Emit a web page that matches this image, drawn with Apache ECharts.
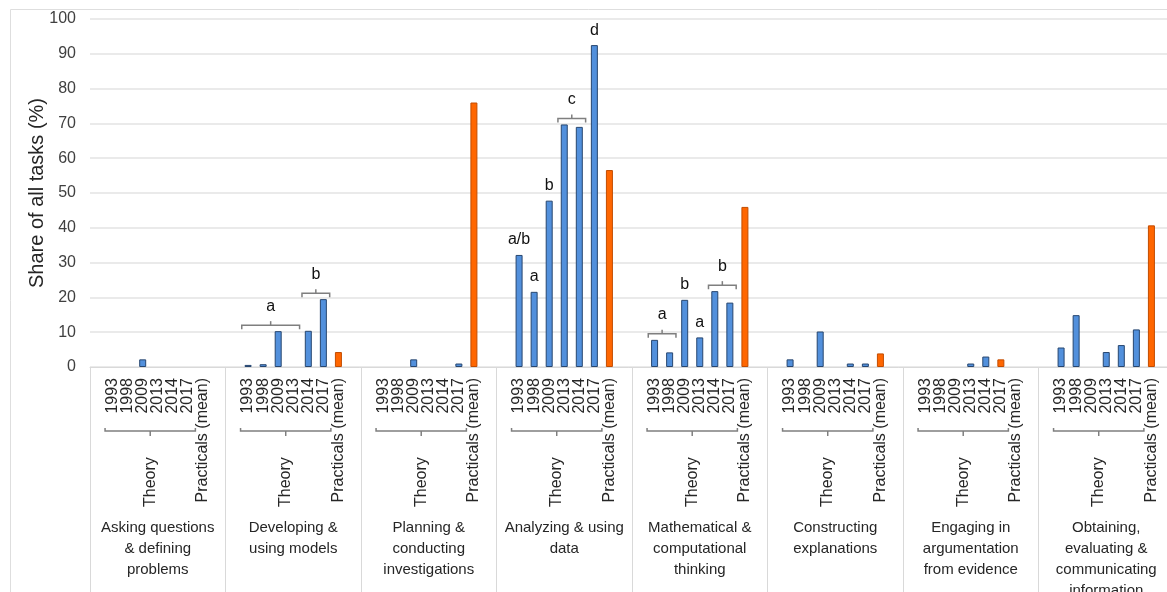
<!DOCTYPE html>
<html>
<head>
<meta charset="utf-8">
<script src="https://cdn.jsdelivr.net/npm/echarts@6/dist/echarts.min.js"></script>
<style>
  html, body { margin: 0; padding: 0; background: #ffffff; }
  #chart { width: 1167px; height: 592px; }
</style>
</head>
<body>
<div id="chart"></div>
<script>
// Science practices, each split into exam years (theory) and practicals
const practices = [
  'Asking questions\n& defining\nproblems',
  'Developing &\nusing models',
  'Planning &\nconducting\ninvestigations',
  'Analyzing & using\ndata',
  'Mathematical &\ncomputational\nthinking',
  'Constructing\nexplanations',
  'Engaging in\nargumentation\nfrom evidence',
  'Obtaining,\nevaluating &\ncommunicating\ninformation'
];
const years = ['1993', '1998', '2009', '2013', '2014', '2017'];
const practicalsLabel = 'Practicals (mean)';
const theoryLabel = 'Theory';
const yTicks = [0, 10, 20, 30, 40, 50, 60, 70, 80, 90, 100];

// Share of all tasks (%) per exam year, one row per practice
const theory = [
  [0,    0,    2.2,  0,    0,    0],
  [0.6,  0.8,  10.3, 0,    10.4, 19.5],
  [0,    0,    2.2,  0,    0,    1.0],
  [32.2, 21.6, 47.8, 69.7, 69.0, 92.5],
  [7.8,  4.2,  19.3, 8.5,  21.8, 18.5],
  [2.2,  0,    10.2, 0,    1.0,  1.0],
  [0,    0,    0,    1.0,  3.0,  0],
  [5.6,  14.9, 0,    4.3,  6.3,  10.8]
];
// Practicals (mean), one per practice
const practicals = [0, 4.3, 76.0, 56.6, 46.0, 3.9, 2.2, 40.7];
// Column each practicals bar is plotted in (argumentation sits in the 2017 column)
const practicalsColumn = [practicalsLabel, practicalsLabel, practicalsLabel, practicalsLabel,
  practicalsLabel, practicalsLabel, '2017', practicalsLabel];

// Significance letters over single bars: [practice, year, letter]
const barLetters = [
  [3, '1993', 'a/b'], [3, '1998', 'a'], [3, '2009', 'b'], [3, '2017', 'd'],
  [4, '2009', 'b'], [4, '2013', 'a']
];
// Significance letters over a bracket of bars: [practice, first year, last year, letter]
const bracketLetters = [
  [1, '1993', '2013', 'a'], [1, '2014', '2017', 'b'],
  [3, '2013', '2014', 'c'],
  [4, '1993', '1998', 'a'], [4, '2014', '2017', 'b']
];

// Each practice gets a padded block of columns: gap, years, practicals, gap
const columns = ['', ...years, practicalsLabel, ''];
const perGroup = columns.length;
const categories = [];
practices.forEach(() => columns.forEach(c => categories.push(c)));
const colIndex = (g, name) => g * perGroup + columns.indexOf(name);

const theoryData = categories.map(() => null);
const practicalsData = categories.map(() => null);
theory.forEach((row, g) => row.forEach((v, i) => {
  theoryData[colIndex(g, years[i])] = v > 0 ? v : null;
}));
practicals.forEach((v, g) => {
  practicalsData[colIndex(g, practicalsColumn[g])] = v > 0 ? v : null;
});

const letterAt = {};
barLetters.forEach(([g, y, t]) => { letterAt[colIndex(g, y)] = t; });

// Annotation items for the custom series: [firstCol, lastCol, value]
const annItems = [], annKinds = [], annTexts = [];
practices.forEach((p, g) => {
  annItems.push([colIndex(g, years[0]), colIndex(g, years[years.length - 1]), 0]);
  annKinds.push('theory');
  annTexts.push(theoryLabel);
});
bracketLetters.forEach(([g, a, b, t]) => {
  const i0 = years.indexOf(a), i1 = years.indexOf(b);
  const top = Math.max(...theory[g].slice(i0, i1 + 1));
  annItems.push([colIndex(g, a), colIndex(g, b), top]);
  annKinds.push('bracket');
  annTexts.push(t);
});

const FONT = '"Liberation Sans", Arial, Helvetica, sans-serif';
const bracketColor = '#7f7f7f';

function renderAnnotation(params, api) {
  const kind = annKinds[params.dataIndex];
  const text = annTexts[params.dataIndex];
  const p0 = api.coord([api.value(0), api.value(2)]);
  const p1 = api.coord([api.value(1), api.value(2)]);
  const band = api.size([1, 0])[0];
  if (kind === 'bracket') {
    const x0 = p0[0] - band * 0.42, x1 = p1[0] + band * 0.42, xm = (x0 + x1) / 2;
    const yh = p0[1] - 6;
    return {
      type: 'group',
      children: [
        { type: 'polyline', shape: { points: [[x0, yh + 4], [x0, yh], [x1, yh], [x1, yh + 4]] },
          style: { stroke: bracketColor, lineWidth: 1.5, fill: null } },
        { type: 'line', shape: { x1: xm, y1: yh, x2: xm, y2: yh - 4 },
          style: { stroke: bracketColor, lineWidth: 1.5 } },
        { type: 'text', x: xm, y: yh - 19,
          style: { text: text, align: 'center', verticalAlign: 'middle',
                   font: '16px ' + FONT, fill: '#111' } }
      ]
    };
  }
  // theory bracket under the year labels
  const x0 = p0[0] - band / 2, x1 = p1[0] + band / 2, xm = (x0 + x1) / 2;
  const yAxis0 = p0[1];
  const yh = yAxis0 + 64;
  return {
    type: 'group',
    children: [
      { type: 'polyline', shape: { points: [[x0, yh - 3], [x0, yh], [x1, yh], [x1, yh - 3]] },
        style: { stroke: bracketColor, lineWidth: 1.5, fill: null } },
      { type: 'line', shape: { x1: xm, y1: yh, x2: xm, y2: yh + 5 },
        style: { stroke: bracketColor, lineWidth: 1.5 } },
      { type: 'text', x: xm, y: yAxis0 + 140, rotation: Math.PI / 2,
        style: { text: text, align: 'left', verticalAlign: 'middle',
                 font: '16px ' + FONT, fill: '#262626' } }
    ]
  };
}

const chart = echarts.init(document.getElementById('chart'), null, { renderer: 'canvas' });
chart.setOption({
  animation: false,
  backgroundColor: '#ffffff',
  textStyle: { fontFamily: FONT },
  grid: { left: 90, right: -7, top: 19, bottom: 225, containLabel: false, outerBoundsMode: 'none' },
  graphic: [
    { type: 'line', shape: { x1: 10.5, y1: 9.5, x2: 1167, y2: 9.5 }, style: { stroke: '#dedede', lineWidth: 1 }, silent: true },
    { type: 'line', shape: { x1: 10.5, y1: 9.5, x2: 10.5, y2: 592 }, style: { stroke: '#dedede', lineWidth: 1 }, silent: true }
  ],
  xAxis: [
    {
      type: 'category',
      data: categories,
      boundaryGap: true,
      axisLine: { show: true, lineStyle: { color: '#d9d9d9', width: 1 } },
      axisTick: { show: true, interval: (i) => i % perGroup === 0, length: 226,
                  lineStyle: { color: '#d9d9d9', width: 1 } },
      axisLabel: { interval: 0, rotate: 90, margin: 11, fontSize: 16, color: '#262626', fontFamily: FONT },
      splitLine: { show: false }
    },
    {
      type: 'category',
      data: practices,
      position: 'bottom',
      offset: 0,
      axisLine: { show: false },
      axisTick: { show: false },
      axisLabel: { interval: 0, margin: 150, fontSize: 15, lineHeight: 21, color: '#262626',
                   fontFamily: FONT, align: 'center', verticalAlign: 'top' },
      splitLine: { show: false }
    }
  ],
  yAxis: {
    type: 'value',
    min: yTicks[0],
    max: yTicks[yTicks.length - 1],
    interval: yTicks[1] - yTicks[0],
    name: 'Share of all tasks (%)',
    nameLocation: 'middle',
    nameGap: 43,
    nameMoveOverlap: false,
    nameTextStyle: { fontSize: 20, color: '#262626', fontFamily: FONT },
    axisLine: { show: false },
    axisTick: { show: false },
    axisLabel: { fontSize: 16, color: '#404040', margin: 14, fontFamily: FONT },
    splitLine: { show: true, lineStyle: { color: '#e3e3e3', width: 1.5 } }
  },
  series: [
    {
      name: theoryLabel,
      type: 'bar',
      data: theoryData,
      barWidth: 7,
      barGap: '-100%',
      itemStyle: { color: '#5290dc', borderColor: '#27466f', borderWidth: 1 },
      label: {
        show: true, position: 'top', distance: 7,
        fontSize: 16, color: '#111', fontFamily: FONT,
        formatter: (p) => letterAt[p.dataIndex] || ''
      }
    },
    {
      name: practicalsLabel,
      type: 'bar',
      data: practicalsData,
      barWidth: 7,
      barGap: '-100%',
      itemStyle: { color: '#ff6600', borderColor: '#c24c00', borderWidth: 1 }
    },
    {
      type: 'custom',
      clip: false,
      silent: true,
      data: annItems,
      encode: { x: [0, 1], y: 2 },
      renderItem: renderAnnotation,
      z: 5
    }
  ]
});
</script>
</body>
</html>
